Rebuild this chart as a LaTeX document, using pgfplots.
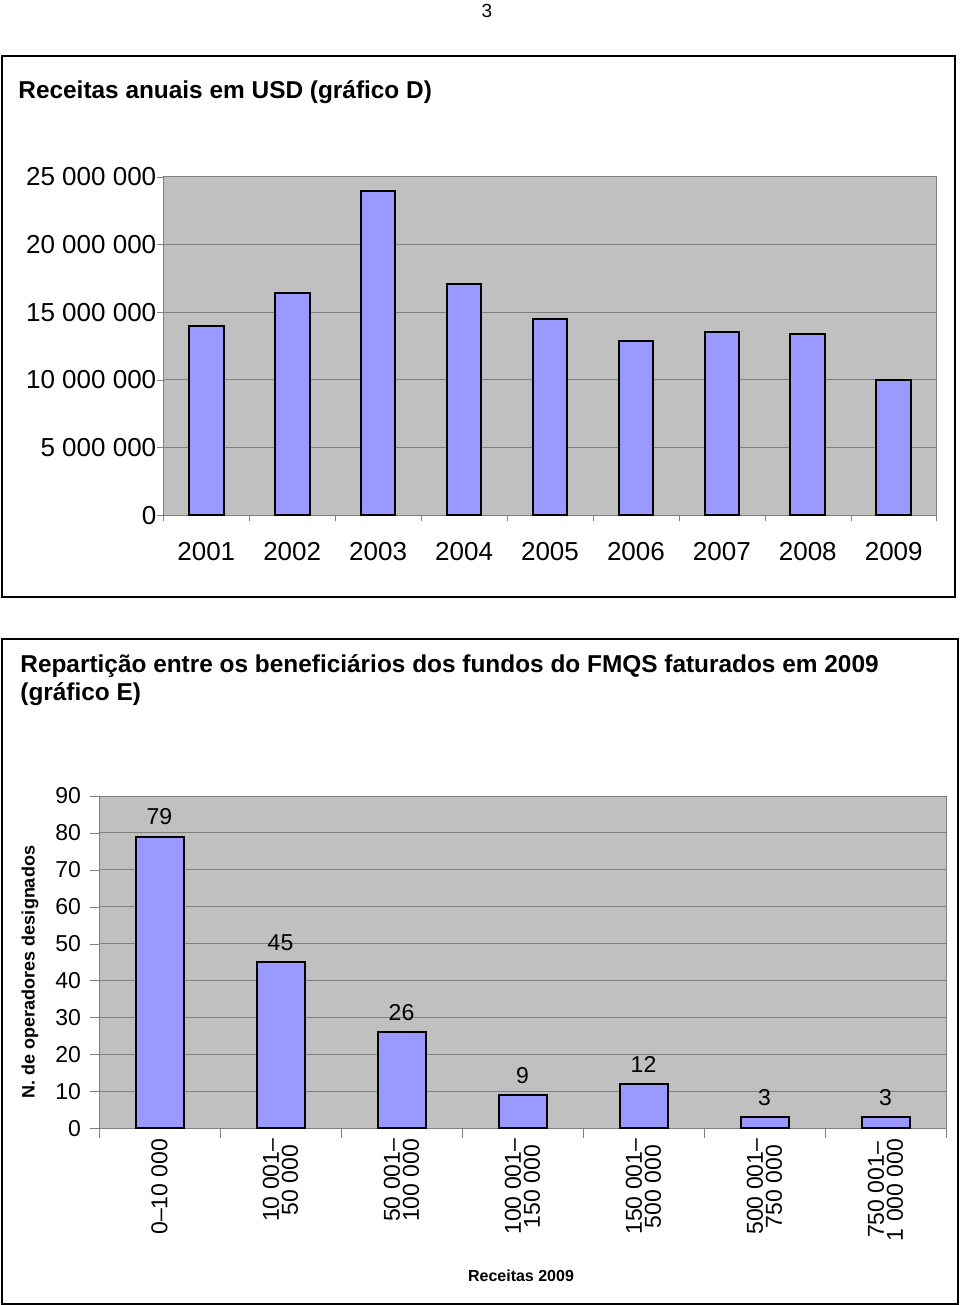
\documentclass[border=0pt]{standalone}
\usepackage{pgfplots}
\pgfplotsset{compat=1.18}
\usepackage{fontspec}
\setmainfont{Liberation Sans}
\definecolor{barblue}{HTML}{9999FF}
\definecolor{plotgray}{HTML}{C0C0C0}
\begin{document}
\begin{tikzpicture}
\path[use as bounding box] (0,0) rectangle (480pt,-652.5pt);
% page number
\node[anchor=base, font=\fontsize{9.5}{11}\selectfont, inner sep=0pt] at (243.5pt,-9pt) {3};

% ---- grafico D ----
\draw[line width=1pt] (1pt,-28pt) rectangle (477.5pt,-298.5pt);
\node[anchor=base west, font=\bfseries\fontsize{12.2}{14}\selectfont, inner sep=0pt] at (9pt,-49.5pt) {Receitas anuais em USD (gráfico D)};
\begin{axis}[
  at={(81.65pt,-257.65pt)}, anchor=south west,
  scale only axis, width=386.7pt, height=169.3pt,
  axis background/.style={fill=plotgray},
  ybar, bar width=17.3pt,
  xmin=0.5, xmax=9.5, ymin=0, ymax=25000000,
  scaled y ticks=false,
  xtick={1,...,9},
  xticklabels={2001,2002,2003,2004,2005,2006,2007,2008,2009},
  minor xtick={0.5,1.5,...,9.5},
  ytick={0,5000000,10000000,15000000,20000000,25000000},
  yticklabels={0,5 000 000,10 000 000,15 000 000,20 000 000,25 000 000},
  tick pos=left, tick align=outside,
  major tick length=3pt, minor tick length=3pt,
  tick style={black!50},
  major x tick style={draw=none},
  ymajorgrids, grid style={black!50, line width=0.5pt},
  axis line style={black!50},
  ticklabel style={font=\fontsize{13}{15}\selectfont},
  yticklabel style={xshift=3pt},
  xticklabel style={yshift=-7pt},
]
\addplot[fill=barblue, draw=black, line width=1pt] coordinates {
  (1,14000000) (2,16450000) (3,23950000) (4,17050000) (5,14500000)
  (6,12900000) (7,13500000) (8,13400000) (9,10000000)
};
\end{axis}

% ---- grafico E ----
\draw[line width=1pt] (1pt,-319.5pt) rectangle (479pt,-652pt);
\node[anchor=base west, font=\bfseries\fontsize{12.2}{14}\selectfont, inner sep=0pt] at (10pt,-336pt) {Repartição entre os beneficiários dos fundos do FMQS faturados em 2009};
\node[anchor=base west, font=\bfseries\fontsize{12.2}{14}\selectfont, inner sep=0pt] at (10pt,-350pt) {(gráfico E)};
\begin{axis}[
  at={(49.5pt,-564.15pt)}, anchor=south west,
  scale only axis, width=423.5pt, height=166.15pt,
  axis background/.style={fill=plotgray},
  ybar, bar width=24pt,
  xmin=0.5, xmax=7.5, ymin=0, ymax=90,
  xtick={1,...,7},
  xticklabels={{0--10 000},{10 001--\\50 000},{50 001--\\100 000},{100 001--\\150 000},{150 001--\\500 000},{500 001--\\750 000},{750 001--\\1 000 000}},
  minor xtick={0.5,1.5,...,7.5},
  ytick={0,10,...,90},
  /pgf/number format/assume math mode=true,
  tick pos=left, tick align=outside,
  major tick length=4.5pt, minor tick length=5pt,
  tick style={black!50},
  major x tick style={draw=none},
  ymajorgrids, grid style={black!50, line width=0.5pt},
  axis line style={black!50},
  ticklabel style={font=\fontsize{11.5}{9.5}\selectfont},
  yticklabel style={xshift=-1pt},
  xticklabel style={rotate=90, anchor=east, align=center, inner sep=0.5pt},
  nodes near coords,
  every node near coord/.append style={font=\fontsize{11.5}{13}\selectfont, yshift=2pt},
]
\addplot[fill=barblue, draw=black, line width=1pt] coordinates {
  (1,79) (2,45) (3,26) (4,9) (5,12) (6,3) (7,3)
};
\end{axis}
\node[rotate=90, font=\bfseries\fontsize{9}{11}\selectfont] at (15pt,-486pt) {N. de operadores designados};
\node[font=\bfseries\fontsize{8}{10}\selectfont] at (260.5pt,-638pt) {Receitas 2009};
\end{tikzpicture}
\end{document}
